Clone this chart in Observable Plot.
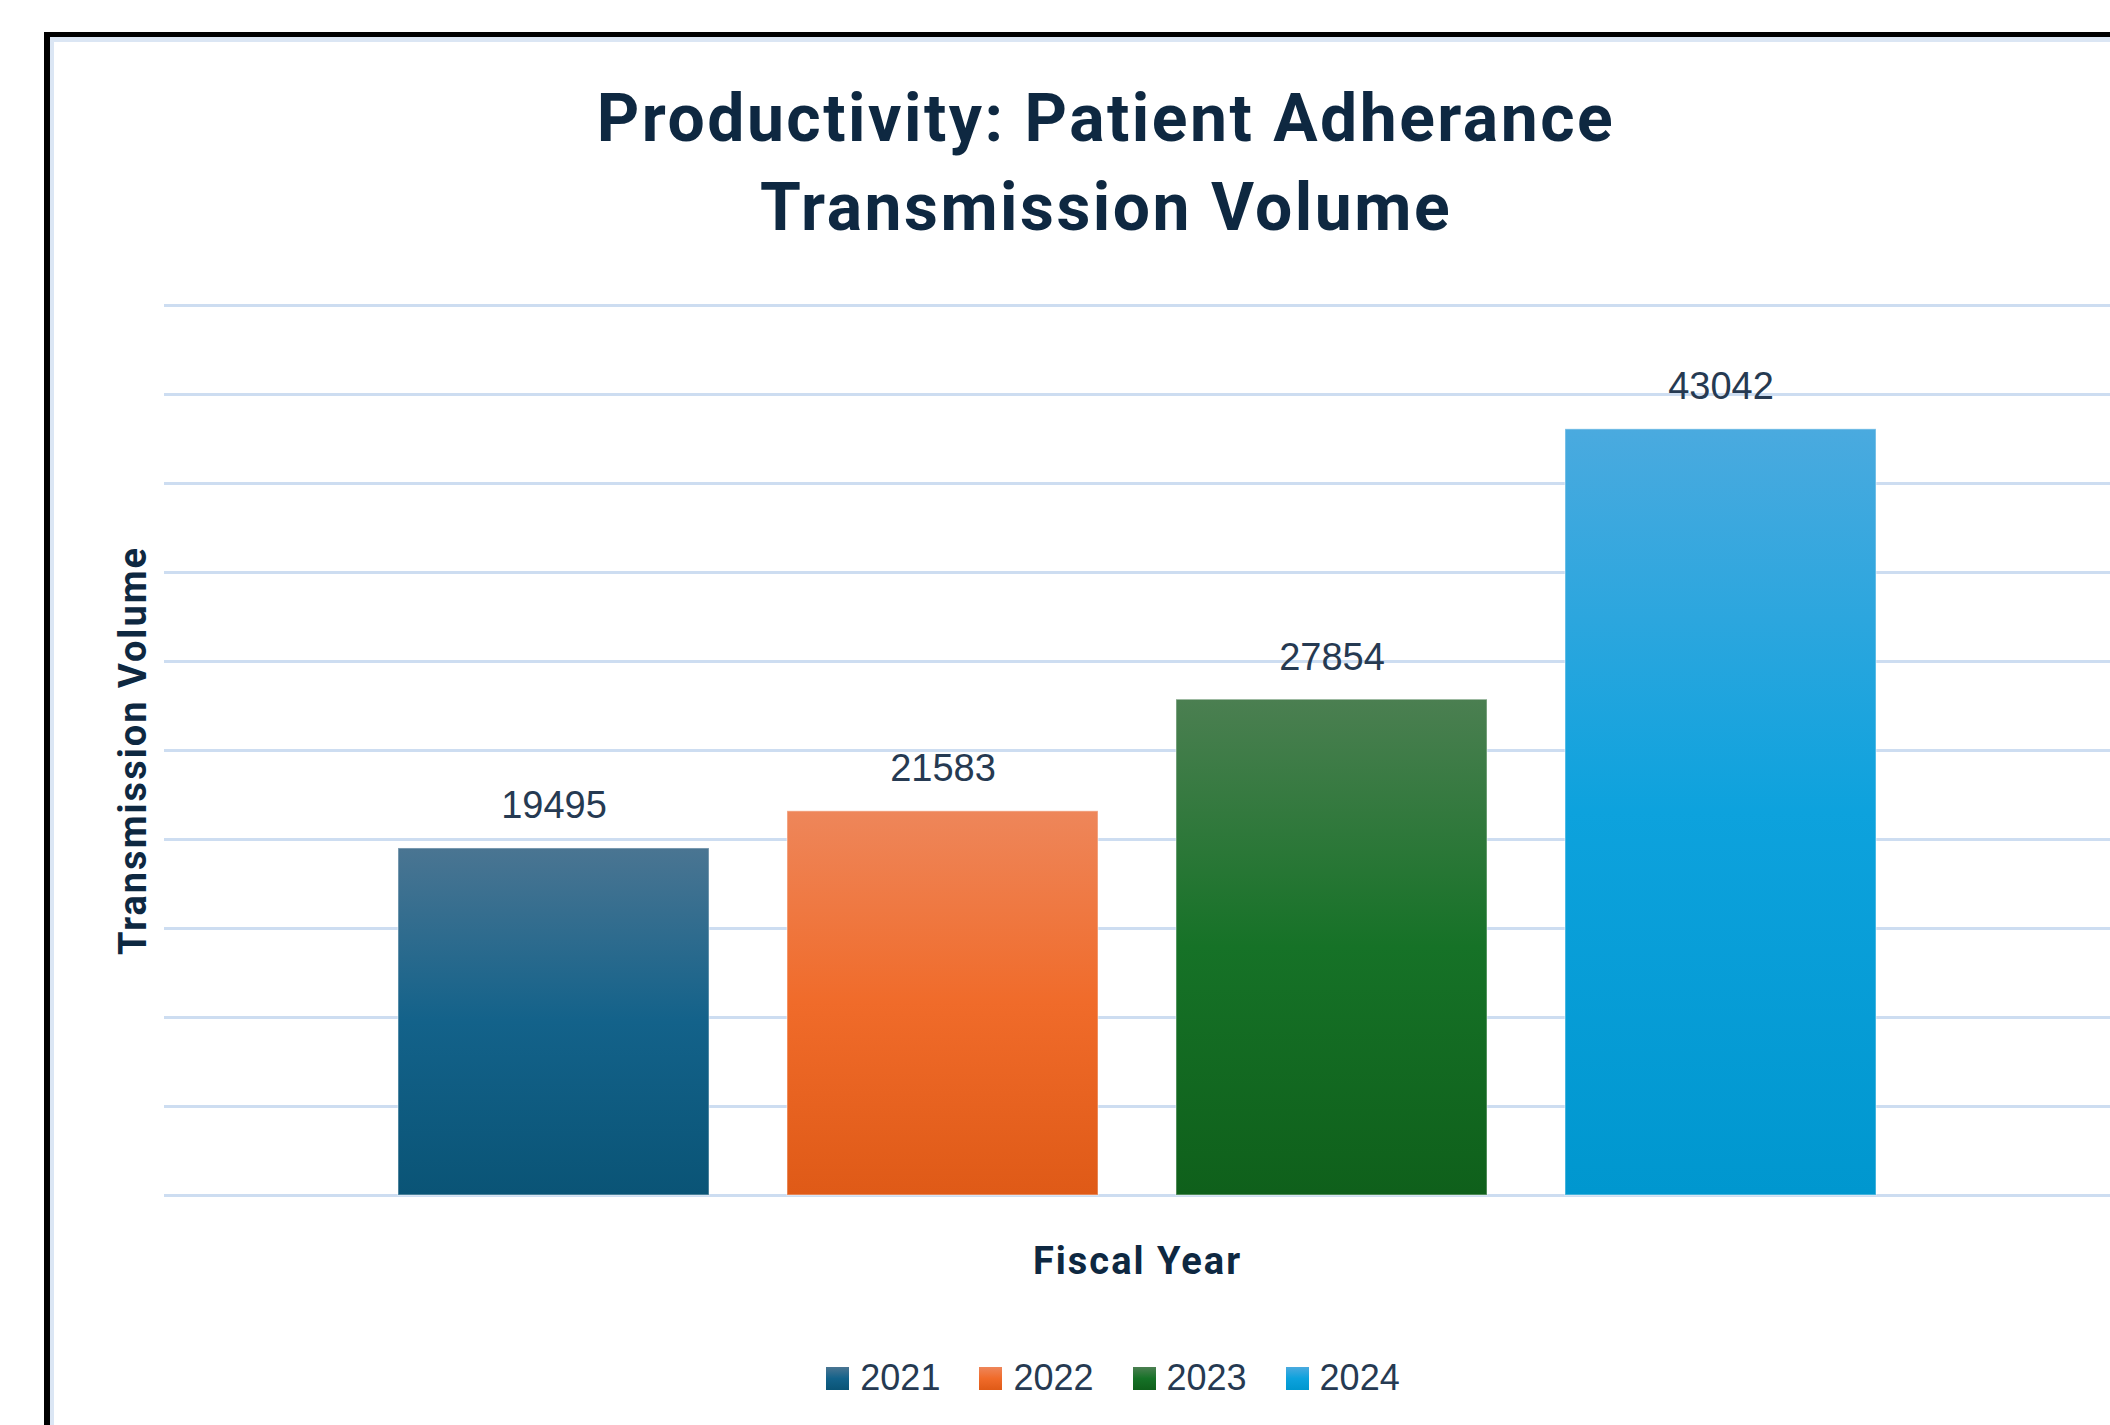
<!DOCTYPE html>
<html>
<head>
<meta charset="utf-8">
<script src="https://cdn.jsdelivr.net/npm/d3@7"></script>
<script src="https://cdn.jsdelivr.net/npm/@observablehq/plot@0.6"></script>
<style>
  html, body { margin: 0; padding: 0; background: #ffffff; }
  body { width: 2110px; height: 1425px; position: relative; overflow: hidden; font-family: Roboto, "Liberation Sans", sans-serif; }
  #frame { position: absolute; left: 44px; top: 32px; width: 2200px; height: 1500px;
           border-left: 6px solid #000; border-top: 5px solid #000; box-shadow: inset 4px 5px 0 #dbe6f4; }
  #title { position: absolute; left: 0; width: 2212px; top: 74px; text-align: center; color: #0e2841;
           font-family: Roboto, sans-serif; font-weight: 700; font-size: 66px; line-height: 89px; letter-spacing: 2.5px; }
  #chart { position: absolute; left: 0; top: 240px; }
  #legend { position: absolute; left: 0; width: 2226px; top: 1358px; display: flex; justify-content: center;
            gap: 39px; font-family: "Liberation Sans", Arial, sans-serif; font-size: 36px; line-height: 40px; color: #263a52; }
  .item { display: flex; align-items: center; gap: 11px; }
  .sw { width: 23px; height: 23px; }
</style>
</head>
<body>
<div id="frame"></div>
<div id="title">Productivity: Patient Adherance<br>Transmission Volume</div>
<div id="chart"></div>
<div id="legend"></div>
<script>
// ---- data ----
const years = ["2021", "2022", "2023", "2024"];
const volumes = [19495, 21583, 27854, 43042];
const gridValues = [0, 5000, 10000, 15000, 20000, 25000, 30000, 35000, 40000, 45000, 50000];
const xTitle = "Fiscal Year";
const yTitle = "Transmission Volume";

// ---- styles ----
const gradientStops = [0, 0.5, 1];
const gradientColors = [
  ["#4a7592", "#13628a", "#0a5476"],
  ["#ee865a", "#f06b2a", "#df5a17"],
  ["#4b7f51", "#167227", "#0f601b"],
  ["#4aaadf", "#0da2dd", "#0097cf"]
];

const data = years.map((year, i) => ({year, volume: volumes[i]}));

const defs = () => {
  const g = d3.create("svg:defs");
  gradientColors.forEach((cols, i) => {
    const lg = g.append("linearGradient").attr("id", `grad${i}`)
      .attr("x1", 0).attr("y1", 0).attr("x2", 0).attr("y2", 1);
    cols.forEach((c, j) => lg.append("stop").attr("offset", gradientStops[j]).attr("stop-color", c));
  });
  return g.node();
};

const chart = Plot.plot({
  width: 2110,
  height: 1185,
  marginTop: 65,
  marginBottom: 230,
  marginLeft: 164,
  marginRight: 0,
  style: {background: "transparent", overflow: "visible"},
  x: {domain: years, paddingInner: 0.2, paddingOuter: 0.1, insetLeft: 195, insetRight: 195, axis: null},
  y: {domain: [0, 50000], axis: null},
  color: {domain: years, range: years.map((_, i) => `url(#grad${i})`)},
  marks: [
    defs,
    Plot.ruleY(gridValues, {stroke: "#cdddf1", strokeWidth: 3}),
    Plot.barY(data, {x: "year", y: "volume", fill: "year", stroke: "rgba(255,255,255,0.35)", strokeWidth: 1.5}),
    Plot.text(data, {x: "year", y: "volume", text: d => String(d.volume), dy: -30, lineAnchor: "bottom",
      fontSize: 38, fill: "#263a52", fontFamily: "Liberation Sans, Arial, sans-serif"}),
    Plot.axisX({ticks: [], tickSize: 0, label: xTitle, labelAnchor: "center", labelOffset: 78,
      fontSize: 38, fontWeight: 700, fill: "#0e2841", fontFamily: "Roboto, sans-serif"}),
    Plot.axisY({ticks: [], tickSize: 0, label: yTitle, labelAnchor: "center", labelArrow: "none", labelOffset: 45,
      fontSize: 38, fontWeight: 700, fill: "#0e2841", fontFamily: "Roboto, sans-serif"})
  ]
});
d3.select(chart).selectAll("g[aria-label='x-axis label'] text, g[aria-label='y-axis label'] text")
  .style("letter-spacing", "2px");
document.getElementById("chart").appendChild(chart);

const legend = d3.select("#legend");
years.forEach((y, i) => {
  const it = legend.append("div").attr("class", "item");
  it.append("div").attr("class", "sw")
    .style("background", `linear-gradient(to bottom, ${gradientColors[i].join(", ")})`);
  it.append("span").text(y);
});
</script>
</body>
</html>
